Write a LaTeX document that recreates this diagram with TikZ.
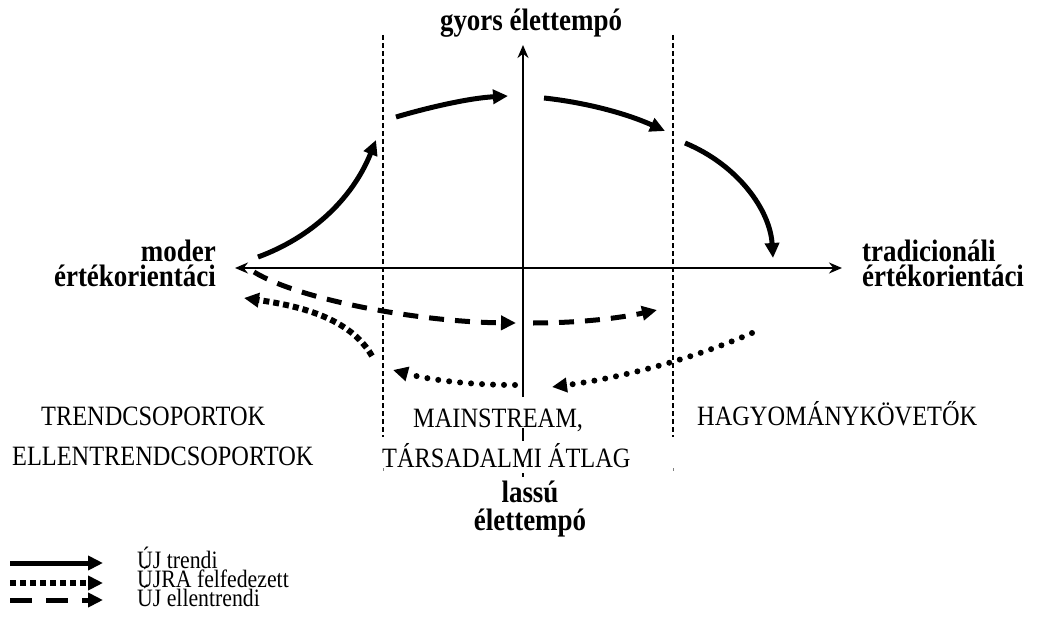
\documentclass[tikz,border=0pt]{standalone}
\usepackage{fontspec}
\setmainfont{Liberation Serif}[FakeStretch=0.87]
\usetikzlibrary{arrows.meta}
\newcommand{\tightlines}{\lineskiplimit=-50pt\relax}
\tikzset{
  lbl/.style={inner sep=0pt, font=\fontsize{28}{30}\selectfont},
  blbl/.style={inner sep=0pt, font=\fontsize{31}{25}\selectfont\bfseries\tightlines},
  leg/.style={inner sep=0pt, anchor=base west, align=left, font=\fontsize{25}{19}\selectfont\tightlines},
  axis/.style={line width=2pt, -{Stealth[length=13pt,width=11pt]}},
  guide/.style={line width=2pt, dash pattern=on 5pt off 3pt},
  tip/.style={-{Triangle[length=15pt,width=14pt]}},
  solidarr/.style={tip, line width=5pt},
  dasharr/.style={tip, line width=5pt, dash pattern=on 15pt off 11pt},
  sqdot/.style={tip, line width=6pt, dash pattern=on 6pt off 4pt},
  rddot/.style={tip, line width=6pt, line cap=round, dash pattern=on 0pt off 11pt},
}
\begin{document}
\begin{tikzpicture}[x=1pt,y=-1pt]
\useasboundingbox (0,0) rectangle (1040,628);
% coordinates
\coordinate (hl) at (235,268);
\coordinate (hr) at (842,268);
\coordinate (vtop) at (523,45);
\coordinate (vb1) at (523,397);
\coordinate (vb2) at (523,428);
\coordinate (vb3) at (523,441);
\coordinate (vb4) at (523,464);
\coordinate (vb5) at (523,467);
\coordinate (vb6) at (523,473);
\coordinate (vb7) at (523,477);
\coordinate (gl1) at (383,35);
\coordinate (gl2) at (383,437);
\coordinate (gl3) at (383,468);
\coordinate (gl4) at (383,471);
\coordinate (gr1) at (673,35);
\coordinate (gr2) at (673,437);
\coordinate (gr3) at (673,468);
\coordinate (gr4) at (673,471);
% axes
\draw[line width=2pt, {Stealth[length=13pt,width=11pt]}-{Stealth[length=13pt,width=11pt]}] (hl) -- (hr);
\draw[axis] (vb1) -- (vtop);
\draw[line width=2pt] (vb2) -- (vb3);
\draw[line width=2pt] (vb4) -- (vb5);
\draw[line width=2pt] (vb6) -- (vb7);
% guides
\draw[guide] (gl1) -- (gl2);
\draw[line width=1pt, gray] (gl3) -- (gl4);
\draw[guide] (gr1) -- (gr2);
\draw[line width=1pt, gray] (gr3) -- (gr4);
% labels
\node[blbl, anchor=base] (gyors) at (531,31) {gyors élettempó};
\node[blbl, anchor=base east, align=right] (mod) at (216,286) {moder\\értékorientáci};
\node[blbl, anchor=base west, align=left] (tra) at (862,286) {tradicionáli\\értékorientáci};
\node[blbl, anchor=base, align=center, font=\fontsize{31}{28}\selectfont\bfseries\tightlines] (lassu) at (530,530) {lassú\\élettempó};
\node[lbl, anchor=base west] (trend) at (41,425) {TRENDCSOPORTOK};
\node[lbl, anchor=base west] (ellen) at (12,465) {ELLENTRENDCSOPORTOK};
\node[lbl, anchor=base west] (main) at (413,427) {MAINSTREAM,};
\node[lbl, anchor=base west] (tars) at (382,467) {TÁRSADALMI ÁTLAG};
\node[lbl, anchor=base west] (hagy) at (697,425) {HAGYOMÁNYKÖVETŐK};
% curve end points
\coordinate (a1s) at (258,257);
\coordinate (a1e) at (376,140);
\coordinate (a2s) at (396,117);
\coordinate (a2e) at (508,96);
\coordinate (a3s) at (544,98);
\coordinate (a3e) at (665,131);
\coordinate (a4s) at (685,143);
\coordinate (a4e) at (773,258);
\coordinate (d1s) at (254,272);
\coordinate (d1e) at (516,323);
\coordinate (d2s) at (533,323);
\coordinate (d2e) at (657,310);
\coordinate (q1s) at (372,356);
\coordinate (q1e) at (244,298);
\coordinate (r1s) at (515,385);
\coordinate (r1e) at (393,370);
\coordinate (r2s) at (752,333);
\coordinate (r2e) at (552,387);
% solid arrows
\draw[solidarr] (a1s) .. controls (310,238) and (352,200) .. (a1e);
\draw[solidarr] (a2s) .. controls (430,107) and (470,98) .. (a2e);
\draw[solidarr] (a3s) .. controls (590,103) and (630,115) .. (a3e);
\draw[solidarr] (a4s) .. controls (738,165) and (770,210) .. (a4e);
% dashed arrows
\draw[dasharr] (d1s) .. controls (300,300) and (420,322) .. (d1e);
\draw[dasharr] (d2s) .. controls (580,323) and (620,318) .. (d2e);
% dotted arrows
\draw[sqdot] (q1s) .. controls (350,318) and (300,306) .. (q1e);
\draw[rddot] (r1s) .. controls (470,385) and (430,380) .. (r1e);
\draw[rddot] (r2s) .. controls (690,360) and (620,378) .. (r2e);
% legend
\coordinate (l1s) at (10,563);
\coordinate (l1e) at (103,563);
\coordinate (l2s) at (10,583);
\coordinate (l2e) at (103,583);
\coordinate (l3s) at (10,600);
\coordinate (l3e) at (103,600);
\draw[solidarr] (l1s) -- (l1e);
\draw[sqdot] (l2s) -- (l2e);
\draw[tip, line width=5pt, dash pattern=on 22pt off 14pt] (l3s) -- (l3e);
\node[leg] (legtext) at (137,606) {ÚJ trendi\\ÚJRA felfedezett\\ÚJ ellentrendi};
\end{tikzpicture}
\end{document}
